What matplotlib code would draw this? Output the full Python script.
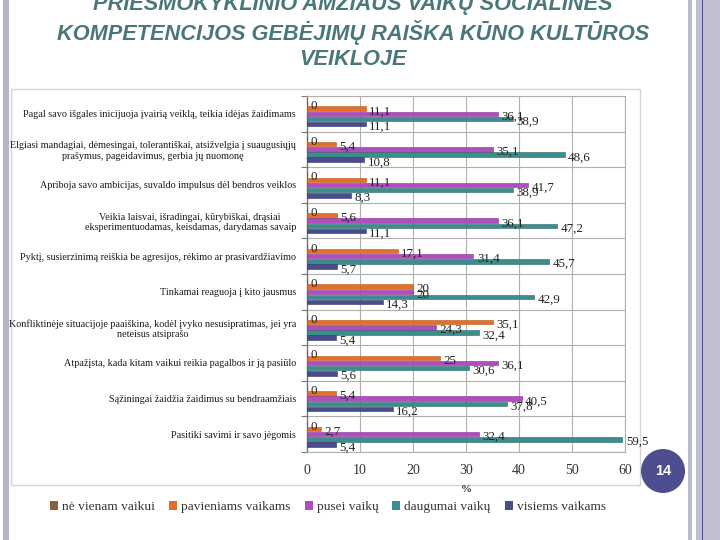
import matplotlib
matplotlib.use("Agg")
import matplotlib.pyplot as plt
from matplotlib.patches import Rectangle, Ellipse, Patch
import numpy as np

categories = [
    "Pagal savo išgales inicijuoja įvairią veiklą, teikia idėjas žaidimams",
    "Elgiasi mandagiai, dėmesingai, tolerantiškai, atsižvelgia į suaugusiųjų\nprašymus, pageidavimus, gerbia jų nuomonę",
    "Apriboja savo ambicijas, suvaldo impulsus dėl bendros veiklos",
    "Veikia laisvai, išradingai, kūrybiškai, drąsiai\neksperimentuodamas, keisdamas, darydamas savaip",
    "Pyktį, susierzinimą reiškia be agresijos, rėkimo ar prasivardžiavimo",
    "Tinkamai reaguoja į kito jausmus",
    "Konfliktinėje situacijoje paaiškina, kodėl įvyko nesusipratimas, jei yra\nneteisus atsiprašo",
    "Atpažįsta, kada kitam vaikui reikia pagalbos ir ją pasiūlo",
    "Sąžiningai žaidžia žaidimus su bendraamžiais",
    "Pasitiki savimi ir savo jėgomis",
]
series_names = ["nė vienam vaikui", "pavieniams vaikams", "pusei vaikų", "daugumai vaikų", "visiems vaikams"]
ne_vienam = [0, 0, 0, 0, 0, 0, 0, 0, 0, 0]
pavieniams = [11.1, 5.4, 11.1, 5.6, 17.1, 20, 35.1, 25, 5.4, 2.7]
pusei = [36.1, 35.1, 41.7, 36.1, 31.4, 20, 24.3, 36.1, 40.5, 32.4]
daugumai = [38.9, 48.6, 38.9, 47.2, 45.7, 42.9, 32.4, 30.6, 37.8, 59.5]
visiems = [11.1, 10.8, 8.3, 11.1, 5.7, 14.3, 5.4, 5.6, 16.2, 5.4]
xticks = [0, 10, 20, 30, 40, 50, 60]

series = [ne_vienam, pavieniams, pusei, daugumai, visiems]
colors = ["#8B5E3C", "#E2702A", "#B04EC0", "#3E8C8C", "#4B4C8E"]
edge_colors = ["#6a4128", "#b8561a", "#86309a", "#2a6666", "#33346a"]

W, H = 720, 540
fig = plt.figure(figsize=(7.2, 5.4), dpi=100)
fig.patch.set_facecolor("white")

def fx(x):
    return x / W

def fy(y):
    return 1 - y / H

# slide decorations
fig.patches.append(Rectangle((fx(3), 0), fx(6), 1, transform=fig.transFigure,
                             facecolor="#b4b4c8", edgecolor="none", zorder=0))
fig.patches.append(Rectangle((fx(688), 0), fx(4), 1, transform=fig.transFigure,
                             facecolor="#b9b9c9", edgecolor="none", zorder=0))
fig.patches.append(Rectangle((fx(696), 0), fx(24), 1, transform=fig.transFigure,
                             facecolor="#c0c0d0", edgecolor="none", zorder=0))
fig.patches.append(Rectangle((fx(701.5), 0), fx(1.2), 1, transform=fig.transFigure,
                             facecolor="#50508a", edgecolor="none", zorder=0))
# chart box
fig.patches.append(Rectangle((fx(11), fy(485)), fx(640 - 11), (485 - 89) / H,
                             transform=fig.transFigure, facecolor="white",
                             edgecolor="#d4d4d4", linewidth=1.0, zorder=0))

# title
fig.text(fx(353), fy(30),
         "PRIEŠMOKYKLINIO AMŽIAUS VAIKŲ SOCIALINĖS\nKOMPETENCIJOS GEBĖJIMŲ RAIŠKA KŪNO KULTŪROS\nVEIKLOJE",
         ha="center", va="center", fontsize=15.7, fontweight="bold", fontstyle="italic",
         color="#4A7878", family="Liberation Sans", linespacing=1.27)

ax = fig.add_axes([fx(307), fy(452), fx(625 - 307), (452 - 96) / H])
ax.set_zorder(2)
ax.set_facecolor("white")
n = len(categories)
ypos = np.arange(n)
pitch = 0.145
bh = 0.125
for j, (vals, c, ec) in enumerate(zip(series, colors, edge_colors)):
    yy = ypos + (j - 2) * pitch
    ax.barh(yy, vals, height=bh, color=c, edgecolor=ec, linewidth=0.4, zorder=3)
    for y, v in zip(yy, vals):
        txt = ("%g" % v).replace(".", ",")
        ax.annotate(txt, (v, y), xytext=(2.5, -2), textcoords="offset points",
                    ha="left", va="center", fontsize=9.4, family="Liberation Serif",
                    color="#222222", zorder=5)

ax.set_xlim(0, 60)
ax.set_ylim(n - 0.5, -0.5)
ax.set_xticks(xticks)
ax.set_xticklabels([str(t) for t in xticks], fontsize=10, family="Liberation Serif", color="#333333")
ax.tick_params(axis="x", length=0, pad=9)
ax.set_yticks(ypos)
ax.set_yticklabels(categories, fontsize=7.3, family="Liberation Serif", color="#1a1a1a")
for lab in ax.get_yticklabels():
    lab.set_multialignment("center")
ax.tick_params(axis="y", length=0, pad=8)
ax.set_yticks(np.arange(n + 1) - 0.5, minor=True)
ax.tick_params(axis="y", which="minor", length=4, direction="out", color="#777777", width=0.8)
ax.grid(axis="x", color="#b0b0b0", linewidth=0.8, zorder=0)
ax.grid(axis="y", which="minor", color="#b0b0b0", linewidth=0.8, zorder=0)
for s in ["top", "right", "bottom"]:
    ax.spines[s].set_color("#b0b0b0")
    ax.spines[s].set_linewidth(0.8)
ax.spines["left"].set_color("#777777")
ax.spines["left"].set_linewidth(1.0)

fig.text(fx(466), fy(490), "%", ha="center", va="center", fontsize=8, fontweight="bold",
         family="Liberation Serif", color="#333333")

handles = [Patch(facecolor=c, edgecolor="none") for c in colors]
fig.legend(handles, series_names, loc="center", bbox_to_anchor=(fx(328), fy(507)),
           ncol=5, frameon=False, prop={"family": "Liberation Serif", "size": 9.6},
           handlelength=0.6, handleheight=0.6, handletextpad=0.3, columnspacing=1.05,
           labelcolor="#333333")

# slide number
fig.patches.append(Ellipse((fx(663), fy(471)), 44 / W, 44 / H, transform=fig.transFigure,
                           facecolor="#4d4d8f", edgecolor="none", zorder=3))
fig.text(fx(663), fy(471), "14", ha="center", va="center", fontsize=10.5, fontweight="bold",
         color="white", family="Liberation Sans", zorder=4)

fig.savefig("out.png", dpi=100)
